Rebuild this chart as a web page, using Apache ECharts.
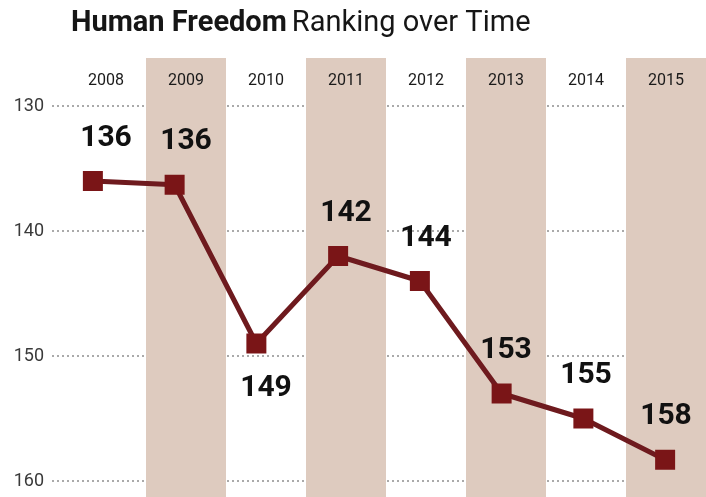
<!DOCTYPE html>
<html>
<head>
<meta charset="utf-8">
<script src="https://cdn.jsdelivr.net/npm/echarts@6/dist/echarts.min.js"></script>
<style>
  html, body { margin: 0; padding: 0; background: #fff; }
  #chart { width: 706px; height: 497px; }
</style>
</head>
<body>
<div id="chart"></div>
<script>
// data
const years = ['2008', '2009', '2010', '2011', '2012', '2013', '2014', '2015'];
const ranking = [136, 136.3, 149, 142, 144, 153, 155, 158.3];
const rankLabels = ['136', '136', '149', '142', '144', '153', '155', '158'];
const yTicks = [130, 140, 150, 160];

const chart = echarts.init(document.getElementById('chart'));

// band grid spans 58..497 px, line grid 106..481 px (12.5 px per rank)
const bandMin = 130 - 48 / 12.5;
const bandMax = 160 + 16 / 12.5;

chart.setOption({
    animation: false,
    title: {
        left: 66,
        top: 4,
        text: '{b|Human Freedom} {r|Ranking over Time}',
        textStyle: {
            rich: {
                b: { fontFamily: 'Roboto', fontWeight: 'bold', fontSize: 29, color: '#161616' },
                r: { fontFamily: 'Roboto', fontWeight: 'normal', fontSize: 29, color: '#161616' }
            }
        }
    },
    grid: [
        // shaded columns + year labels
        { left: 66, right: -4, top: 58, bottom: 0 },
        // line + dotted rules
        { left: 52, right: -16, top: 106, bottom: 16 }
    ],
    xAxis: [
        {
            gridIndex: 0,
            type: 'category',
            data: years,
            position: 'top',
            axisLine: { show: false },
            axisTick: { show: false },
            axisLabel: {
                inside: true,
                margin: 15,
                fontFamily: 'Roboto',
                fontSize: 16,
                color: '#1a1a1a'
            },
            splitArea: {
                show: true,
                areaStyle: { color: ['rgba(0,0,0,0)', '#decbbf'] }
            }
        },
        {
            gridIndex: 1,
            type: 'category',
            data: years,
            show: false
        }
    ],
    yAxis: [
        {
            gridIndex: 0,
            type: 'value',
            inverse: true,
            min: bandMin,
            max: bandMax,
            show: false,
            splitLine: { show: false }
        },
        {
            gridIndex: 1,
            type: 'value',
            inverse: true,
            min: yTicks[0],
            max: yTicks[yTicks.length - 1],
            interval: 10,
            axisLine: { show: false },
            axisTick: { show: false },
            axisLabel: {
                margin: 8,
                fontFamily: 'Roboto',
                fontSize: 18,
                color: '#3a3a3a'
            },
            splitLine: {
                lineStyle: { color: '#8f8f8f', type: [2, 3], width: 1.5 }
            }
        }
    ],
    series: [
        {
            type: 'line',
            xAxisIndex: 1,
            yAxisIndex: 1,
            data: ranking,
            symbol: 'rect',
            symbolSize: 20,
            lineStyle: { color: '#6e1a1e', width: 5 },
            itemStyle: { color: '#7a1517' },
            z: 5
        },
        {
            // number labels sit centred on the shaded columns
            type: 'scatter',
            xAxisIndex: 0,
            yAxisIndex: 0,
            symbolSize: 0,
            data: ranking.map(function (v, i) {
                return {
                    value: v,
                    label: {
                        position: years[i] === '2010' ? 'bottom' : 'top',
                        distance: years[i] === '2010' ? 30 : 28
                    }
                };
            }),
            label: {
                show: true,
                formatter: function (p) { return rankLabels[p.dataIndex]; },
                fontFamily: 'Roboto',
                fontWeight: 'bold',
                fontSize: 30,
                color: '#111'
            },
            itemStyle: { opacity: 1 },
            z: 6
        }
    ]
});
</script>
</body>
</html>
